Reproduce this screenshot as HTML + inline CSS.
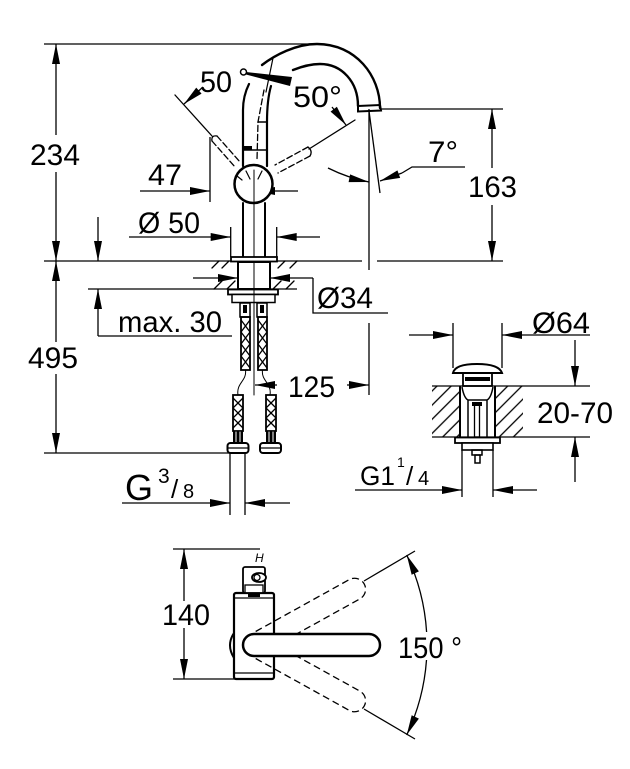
<!DOCTYPE html>
<html><head><meta charset="utf-8"><style>
html,body{margin:0;padding:0;background:#fff;}
svg{display:block;}
text{font-family:"Liberation Sans",Arial,sans-serif;fill:#000;}
</style></head><body>
<svg xmlns="http://www.w3.org/2000/svg" width="630" height="769" viewBox="0 0 630 769">
<defs>
<marker id="a" markerUnits="userSpaceOnUse" markerWidth="20" markerHeight="8" refX="20" refY="4" orient="auto-start-reverse" overflow="visible"><path d="M0,0 L20,4 L0,8Z" fill="#000" stroke="none"/></marker>
<pattern id="h" patternUnits="userSpaceOnUse" width="10" height="10" patternTransform="rotate(45)"><line x1="2" y1="0" x2="2" y2="10" stroke="#000" stroke-width="1.3"/></pattern>
</defs>
<rect width="630" height="769" fill="#fff"/>

<!-- dimension & extension lines -->
<g stroke="#000" stroke-width="1.3" fill="none">
<path d="M44,44H312 M44,261H362 M377,261H503 M381,109H503 M44,453H230 M88,289H297 M98,336H232"/>
<line x1="56" y1="135" x2="56" y2="44" marker-end="url(#a)"/>
<line x1="56" y1="172" x2="56" y2="261" marker-end="url(#a)"/>
<line x1="56" y1="342" x2="56" y2="261" marker-end="url(#a)"/>
<line x1="56" y1="374" x2="56" y2="453" marker-end="url(#a)"/>
<line x1="492" y1="168" x2="492" y2="109" marker-end="url(#a)"/>
<line x1="492" y1="205" x2="492" y2="261" marker-end="url(#a)"/>
<line x1="98" y1="217" x2="98" y2="261" marker-end="url(#a)"/>
<line x1="98" y1="336" x2="98" y2="289" marker-end="url(#a)"/>
<!-- Ø50 -->
<path d="M230.7,227V257 M276.7,227V257"/>
<line x1="129" y1="237" x2="230.7" y2="237" marker-end="url(#a)"/>
<line x1="320" y1="237" x2="276.7" y2="237" marker-end="url(#a)"/>
<!-- 47 -->
<path d="M210,137V202"/>
<line x1="140" y1="191" x2="210" y2="191" marker-end="url(#a)"/>
<line x1="298" y1="191" x2="255" y2="191" marker-end="url(#a)"/>
<!-- 7 deg -->
<path d="M369,109V270 M369,323V395"/>
<path d="M328,168 Q348,178 369,182" marker-end="url(#a)"/>
<path d="M369,111 L380,193"/>
<line x1="402" y1="173" x2="380" y2="181" marker-end="url(#a)"/>
<path d="M402,173 L412,167 H465"/>
<!-- 50 deg arrows -->
<line x1="203" y1="87" x2="184" y2="104" marker-end="url(#a)"/>
<line x1="332" y1="107" x2="346" y2="125" marker-end="url(#a)"/>
<!-- Ø34 -->
<line x1="193" y1="278" x2="238" y2="278" marker-end="url(#a)"/>
<line x1="313" y1="278" x2="270" y2="278" marker-end="url(#a)"/>
<path d="M313,278V313H388"/>
<!-- 125 -->
<line x1="277" y1="385" x2="255" y2="385" marker-end="url(#a)"/>
<line x1="347" y1="385" x2="369" y2="385" marker-end="url(#a)"/>
<!-- G3/8 -->
<path d="M230,453V515 M245,453V515"/>
<line x1="122" y1="503" x2="230" y2="503" marker-end="url(#a)"/>
<line x1="290" y1="503" x2="245" y2="503" marker-end="url(#a)"/>
<!-- drain dims -->
<path d="M453,323V368 M502,323V368 M432,386H590 M432,437H590 M462,450V497 M493,450V497"/>
<line x1="409" y1="335" x2="453" y2="335" marker-end="url(#a)"/>
<line x1="590" y1="335" x2="502" y2="335" marker-end="url(#a)"/>
<line x1="575" y1="340" x2="575" y2="386" marker-end="url(#a)"/>
<line x1="575" y1="482" x2="575" y2="437" marker-end="url(#a)"/>
<line x1="355" y1="490" x2="462" y2="490" marker-end="url(#a)"/>
<line x1="537" y1="490" x2="493" y2="490" marker-end="url(#a)"/>
<!-- top view dims -->
<path d="M173,549H260 M173,679H273"/>
<line x1="184" y1="601" x2="184" y2="549" marker-end="url(#a)"/>
<line x1="184" y1="628" x2="184" y2="679" marker-end="url(#a)"/>
<path d="M364,581 L415,551 M364,709 L415,739"/>
<path d="M406.7,555 A210,210 0 0 1 426.6,632" marker-start="url(#a)"/>
<path d="M426.5,660 A210,210 0 0 1 406.7,735" marker-end="url(#a)"/>
</g>

<!-- faucet side view -->
<g stroke="#000" fill="none" stroke-linecap="round">
<path d="M262,65 C275,55 296,44 317,44 C356,44 380,76 380,108" stroke-width="2.4"/>
<path d="M293,70 C303,66 312,64 320,64 C342,64 358,82 358,106" stroke-width="2.4"/>
<path d="M358,106 L380,105 L381,110.5 L358,111.5 Z" stroke-width="2"/>
<path d="M249,84 Q243,96 243,110 L243,166" stroke-width="2.2"/>
<path d="M271,86 Q267,100 267,122 L267,166" stroke-width="2.2"/>
<path d="M264,90 L258,122 L257,160" stroke-width="1.3" stroke-dasharray="6,3"/>
<path d="M273,58 L266,92" stroke-width="1.2"/>
<path d="M258,122H267 M243,150H267" stroke-width="1.5"/>
<rect x="244" y="146" width="8" height="3.5" fill="#000" stroke="none"/>
<circle cx="253.5" cy="184" r="19" fill="#fff" stroke-width="2.5"/>
<path d="M246,171 L250,179 M262,171 L258,179 M237,176 L242,180" stroke-width="1.2"/>
<path d="M243,203V257 M265,203V257" stroke-width="2"/>
<path d="M254,170V395" stroke-width="1"/>
<!-- levers -->
<path d="M175,95 L212,136 M355,120 L309,149" stroke-width="1.3"/>
<path d="M217,136 L240,162 M212,141 L235,167 M308,147 L275,165 M310,156 L278,173" stroke-width="1.3" stroke-dasharray="6,3"/>
<path d="M217,136 Q211,135 212,141 M308,147 Q313,151 310,156" stroke-width="1.3"/>
<circle cx="243.5" cy="72" r="3" stroke-width="1.5"/>
<!-- rosette, shank -->
<rect x="231" y="257" width="46" height="4.5" stroke-width="1.8" fill="#fff"/>
<rect x="238" y="262" width="32" height="27" stroke-width="2"/>
<path d="M212,268 L219,261 M222,268 L229,261 M214,289 L222,281 M227,289 L235,281 M278,268 L285,261 M290,268 L297,261 M273,289 L281,281 M286,289 L294,281" stroke-width="1.3"/>
<rect x="228" y="289.5" width="50" height="5" stroke-width="1.8" fill="#fff"/>
<rect x="232" y="294.5" width="43" height="8" stroke-width="1.5" fill="#fff"/>
<path d="M254,289V303" stroke-width="1"/>
<rect x="240" y="303" width="10" height="14" stroke-width="1.5"/>
<rect x="257" y="303" width="10" height="14" stroke-width="1.5"/>
<rect x="243" y="305" width="4" height="8" fill="#000" stroke="none"/>
<rect x="260" y="305" width="4" height="8" fill="#000" stroke="none"/>
<rect x="241" y="317" width="9" height="53" stroke-width="1.8"/>
<rect x="258" y="317" width="9" height="53" stroke-width="1.8"/>
<polyline points="241,320 250,332 241,344 250,356 241,368" stroke-width="1.3"/>
<polyline points="250,320 241,332 250,344 241,356 250,368" stroke-width="1.3"/>
<polyline points="258,320 267,332 258,344 267,356 258,368" stroke-width="1.3"/>
<polyline points="267,320 258,332 267,344 258,356 267,368" stroke-width="1.3"/>
<path d="M245.5,370 C247,381 236,383 238,395 M262.5,370 C261,381 272,383 270,395" stroke-width="1"/>
<rect x="233" y="395" width="10" height="36" stroke-width="1.8"/>
<rect x="266" y="395" width="10" height="36" stroke-width="1.8"/>
<polyline points="233,398 243,408 233,418 243,428" stroke-width="1.3"/>
<polyline points="243,398 233,408 243,418 233,428" stroke-width="1.3"/>
<polyline points="266,398 276,408 266,418 276,428" stroke-width="1.3"/>
<polyline points="276,398 266,408 276,418 266,428" stroke-width="1.3"/>
<rect x="233" y="431" width="10" height="12" fill="#000" stroke="none"/>
<rect x="266" y="431" width="10" height="12" fill="#000" stroke="none"/>
<path d="M236,432V442 M240,432V442 M269,432V442 M273,432V442" stroke="#fff" stroke-width="1"/>
<rect x="227.5" y="443" width="21" height="10" rx="3" stroke-width="2" fill="#fff"/>
<rect x="260" y="443" width="21" height="10" rx="3" stroke-width="2" fill="#fff"/>
<path d="M228,448H248 M260,448H281" stroke-width="1.2"/>
</g>
<polygon points="246,72 292,77 290,86 246,74.5" fill="#000"/>

<!-- drain -->
<rect x="432" y="386" width="28" height="51" fill="url(#h)"/>
<rect x="495" y="386" width="28" height="51" fill="url(#h)"/>
<g stroke="#000" fill="none">
<path d="M453,373 Q455,364 477,364 Q499,364 502,373 Z" stroke-width="2" fill="#fff"/>
<rect x="463" y="373" width="29" height="13" stroke-width="1.8"/>
<rect x="465" y="377" width="25" height="4" fill="#000" stroke="none"/>
<path d="M460,386V437 M495,386V437" stroke-width="2"/>
<path d="M462,387 Q464,398 468,400 L487,400 Q491,398 493,387 M468,400V437 M487,400V437" stroke-width="1.5"/>
<rect x="474.5" y="405" width="5" height="32" stroke-width="1.3"/>
<rect x="472" y="402" width="10" height="4" fill="#000" stroke="none"/>
<rect x="455" y="437.5" width="45" height="5.5" stroke-width="1.8" fill="#fff"/>
<rect x="462" y="443" width="31" height="7" stroke-width="1.6" fill="#fff"/>
<rect x="472" y="450" width="10" height="5" stroke-width="1.5"/>
<rect x="475" y="455" width="5" height="8" stroke-width="1.5"/>
</g>

<!-- top view -->
<g stroke="#000" fill="none">
<rect x="234" y="593" width="40" height="86" rx="2" stroke-width="2.2" fill="#fff"/>
<path d="M235,598H273 M235,673H273" stroke-width="1.3"/>
<rect x="248" y="594" width="12" height="3" fill="#000" stroke="none"/>
<rect x="243" y="567" width="22" height="26" rx="2" stroke-width="1.8" fill="#fff"/>
<rect x="245" y="585" width="18" height="8" stroke-width="1.3"/>
<ellipse cx="259" cy="577.5" rx="7" ry="4.5" stroke-width="1.8" fill="#fff"/>
<ellipse cx="257" cy="577.5" rx="3" ry="3" stroke-width="1.3"/>
<path d="M262,634 L369,634 A11,11 0 0 1 369,656 L290,656" transform="rotate(-29 254 645)" stroke-width="1.3" stroke-dasharray="7,4"/>
<path d="M262,656 L369,656 A11,11 0 0 0 369,634 L290,634" transform="rotate(29 254 645)" stroke-width="1.3" stroke-dasharray="7,4"/>
<path d="M234,633 Q226,645 234,658" stroke-width="2"/>
<rect x="243" y="634" width="137" height="22" rx="11" stroke-width="2.5" fill="#fff"/>
</g>
<text x="255" y="562" font-size="12" font-style="italic">H</text>

<!-- labels -->
<g font-size="30">
<text x="30" y="165" textLength="50" lengthAdjust="spacingAndGlyphs">234</text>
<text x="28" y="368" textLength="50" lengthAdjust="spacingAndGlyphs">495</text>
<text x="468" y="197" textLength="49" lengthAdjust="spacingAndGlyphs">163</text>
<text x="288" y="397" textLength="47" lengthAdjust="spacingAndGlyphs">125</text>
<text x="317" y="308" textLength="56" lengthAdjust="spacingAndGlyphs">Ø34</text>
<text x="118" y="332" textLength="104" lengthAdjust="spacingAndGlyphs">max. 30</text>
<text x="138" y="233" textLength="62" lengthAdjust="spacingAndGlyphs">Ø 50</text>
<text x="148" y="185" textLength="34" lengthAdjust="spacingAndGlyphs">47</text>
<text x="200" y="92" textLength="32" lengthAdjust="spacingAndGlyphs">50</text>
<text x="293" y="107" textLength="49" lengthAdjust="spacingAndGlyphs">50°</text>
<text x="428" y="162" textLength="30" lengthAdjust="spacingAndGlyphs">7°</text>
<text x="532" y="333" textLength="58" lengthAdjust="spacingAndGlyphs">Ø64</text>
<text x="537" y="423" textLength="76" lengthAdjust="spacingAndGlyphs">20-70</text>
<text x="162" y="625" textLength="48" lengthAdjust="spacingAndGlyphs">140</text>
<text x="398" y="658" textLength="64" lengthAdjust="spacingAndGlyphs">150 °</text>
</g>
<text x="125" y="500" font-size="36">G</text>
<text x="158" y="483" font-size="21">3</text>
<text x="171" y="498" font-size="26">/</text>
<text x="183" y="498" font-size="20">8</text>
<text x="360" y="485" font-size="27" textLength="35" lengthAdjust="spacingAndGlyphs">G1</text>
<text x="397" y="467" font-size="14">1</text>
<text x="406" y="485" font-size="26">/</text>
<text x="418" y="485" font-size="20">4</text>
</svg>
</body></html>
